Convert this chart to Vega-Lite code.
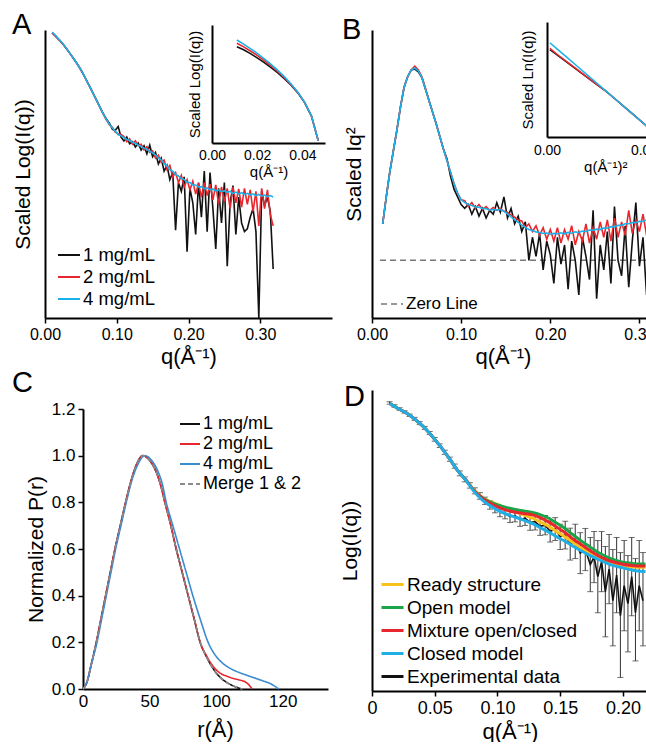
{
"$schema": "https://vega.github.io/schema/vega-lite/v6.json",
"padding": {"left": 12, "top": 10, "right": 0, "bottom": 0},
"background": "white",
"config": {
  "font": "Liberation Sans",
  "view": {"stroke": null},
  "axis": {"domainColor": "#000000", "domainWidth": 2, "tickColor": "#000000", "tickWidth": 1.5, "tickSize": 5, "labelColor": "#000000", "titleColor": "#000000", "labelFont": "Liberation Sans", "titleFont": "Liberation Sans", "titleFontWeight": "normal", "grid": false, "labelFontSize": 16, "titleFontSize": 21, "labelPadding": 3, "labelFlush": false},
  "legend": {"labelFont": "Liberation Sans", "labelColor": "#000000", "symbolType": "stroke", "labelLimit": 400},
  "title": {"font": "Liberation Sans", "fontWeight": "normal", "fontSize": 29, "anchor": "start", "color": "#000000", "frame": "group"}
},
"datasets": {
  "A": [
    {"q":0.010,"1 mg/mL":0.990,"2 mg/mL":0.990,"4 mg/mL":0.993},
    {"q":0.015,"1 mg/mL":0.978,"2 mg/mL":0.978,"4 mg/mL":0.980},
    {"q":0.020,"1 mg/mL":0.965,"2 mg/mL":0.965,"4 mg/mL":0.966},
    {"q":0.025,"1 mg/mL":0.951,"2 mg/mL":0.951,"4 mg/mL":0.952},
    {"q":0.030,"1 mg/mL":0.935,"2 mg/mL":0.935,"4 mg/mL":0.936},
    {"q":0.035,"1 mg/mL":0.918,"2 mg/mL":0.918,"4 mg/mL":0.918},
    {"q":0.040,"1 mg/mL":0.900,"2 mg/mL":0.900,"4 mg/mL":0.900},
    {"q":0.045,"1 mg/mL":0.882,"2 mg/mL":0.882,"4 mg/mL":0.882},
    {"q":0.050,"1 mg/mL":0.862,"2 mg/mL":0.862,"4 mg/mL":0.862},
    {"q":0.055,"1 mg/mL":0.839,"2 mg/mL":0.839,"4 mg/mL":0.839},
    {"q":0.060,"1 mg/mL":0.815,"2 mg/mL":0.815,"4 mg/mL":0.815},
    {"q":0.065,"1 mg/mL":0.790,"2 mg/mL":0.790,"4 mg/mL":0.790},
    {"q":0.070,"1 mg/mL":0.765,"2 mg/mL":0.765,"4 mg/mL":0.765},
    {"q":0.075,"1 mg/mL":0.740,"2 mg/mL":0.740,"4 mg/mL":0.740},
    {"q":0.080,"1 mg/mL":0.715,"2 mg/mL":0.715,"4 mg/mL":0.715},
    {"q":0.085,"1 mg/mL":0.693,"2 mg/mL":0.690,"4 mg/mL":0.692},
    {"q":0.090,"1 mg/mL":0.676,"2 mg/mL":0.670,"4 mg/mL":0.672},
    {"q":0.094,"1 mg/mL":0.655,"2 mg/mL":0.662,"4 mg/mL":0.660},
    {"q":0.098,"1 mg/mL":0.652,"2 mg/mL":0.645,"4 mg/mL":0.649},
    {"q":0.102,"1 mg/mL":0.665,"2 mg/mL":0.640,"4 mg/mL":0.636},
    {"q":0.106,"1 mg/mL":0.628,"2 mg/mL":0.637,"4 mg/mL":0.633},
    {"q":0.110,"1 mg/mL":0.615,"2 mg/mL":0.630,"4 mg/mL":0.626},
    {"q":0.114,"1 mg/mL":0.628,"2 mg/mL":0.612,"4 mg/mL":0.620},
    {"q":0.118,"1 mg/mL":0.605,"2 mg/mL":0.622,"4 mg/mL":0.617},
    {"q":0.122,"1 mg/mL":0.612,"2 mg/mL":0.604,"4 mg/mL":0.610},
    {"q":0.126,"1 mg/mL":0.594,"2 mg/mL":0.615,"4 mg/mL":0.606},
    {"q":0.130,"1 mg/mL":0.607,"2 mg/mL":0.598,"4 mg/mL":0.600},
    {"q":0.134,"1 mg/mL":0.583,"2 mg/mL":0.603,"4 mg/mL":0.596},
    {"q":0.138,"1 mg/mL":0.598,"2 mg/mL":0.584,"4 mg/mL":0.589},
    {"q":0.142,"1 mg/mL":0.570,"2 mg/mL":0.595,"4 mg/mL":0.586},
    {"q":0.146,"1 mg/mL":0.600,"2 mg/mL":0.575,"4 mg/mL":0.578},
    {"q":0.150,"1 mg/mL":0.560,"2 mg/mL":0.580,"4 mg/mL":0.574},
    {"q":0.154,"1 mg/mL":0.575,"2 mg/mL":0.555,"4 mg/mL":0.566},
    {"q":0.158,"1 mg/mL":0.535,"2 mg/mL":0.565,"4 mg/mL":0.556},
    {"q":0.162,"1 mg/mL":0.555,"2 mg/mL":0.540,"4 mg/mL":0.549},
    {"q":0.166,"1 mg/mL":0.510,"2 mg/mL":0.548,"4 mg/mL":0.536},
    {"q":0.170,"1 mg/mL":0.530,"2 mg/mL":0.515,"4 mg/mL":0.528},
    {"q":0.174,"1 mg/mL":0.480,"2 mg/mL":0.530,"4 mg/mL":0.515},
    {"q":0.178,"1 mg/mL":0.505,"2 mg/mL":0.490,"4 mg/mL":0.510},
    {"q":0.182,"1 mg/mL":0.305,"2 mg/mL":0.505,"4 mg/mL":0.498},
    {"q":0.186,"1 mg/mL":0.470,"2 mg/mL":0.470,"4 mg/mL":0.493},
    {"q":0.190,"1 mg/mL":0.440,"2 mg/mL":0.495,"4 mg/mL":0.484},
    {"q":0.194,"1 mg/mL":0.490,"2 mg/mL":0.455,"4 mg/mL":0.481},
    {"q":0.198,"1 mg/mL":0.230,"2 mg/mL":0.480,"4 mg/mL":0.471},
    {"q":0.202,"1 mg/mL":0.450,"2 mg/mL":0.445,"4 mg/mL":0.470},
    {"q":0.206,"1 mg/mL":0.400,"2 mg/mL":0.475,"4 mg/mL":0.462},
    {"q":0.210,"1 mg/mL":0.290,"2 mg/mL":0.430,"4 mg/mL":0.462},
    {"q":0.214,"1 mg/mL":0.470,"2 mg/mL":0.468,"4 mg/mL":0.455},
    {"q":0.218,"1 mg/mL":0.350,"2 mg/mL":0.420,"4 mg/mL":0.456},
    {"q":0.222,"1 mg/mL":0.510,"2 mg/mL":0.470,"4 mg/mL":0.449},
    {"q":0.226,"1 mg/mL":0.300,"2 mg/mL":0.425,"4 mg/mL":0.452},
    {"q":0.230,"1 mg/mL":0.505,"2 mg/mL":0.465,"4 mg/mL":0.445},
    {"q":0.234,"1 mg/mL":0.380,"2 mg/mL":0.410,"4 mg/mL":0.448},
    {"q":0.238,"1 mg/mL":0.240,"2 mg/mL":0.462,"4 mg/mL":0.441},
    {"q":0.242,"1 mg/mL":0.450,"2 mg/mL":0.395,"4 mg/mL":0.445},
    {"q":0.246,"1 mg/mL":0.330,"2 mg/mL":0.455,"4 mg/mL":0.438},
    {"q":0.250,"1 mg/mL":0.470,"2 mg/mL":0.405,"4 mg/mL":0.442},
    {"q":0.254,"1 mg/mL":0.180,"2 mg/mL":0.450,"4 mg/mL":0.436},
    {"q":0.258,"1 mg/mL":0.400,"2 mg/mL":0.380,"4 mg/mL":0.440},
    {"q":0.262,"1 mg/mL":0.460,"2 mg/mL":0.455,"4 mg/mL":0.432},
    {"q":0.266,"1 mg/mL":0.290,"2 mg/mL":0.400,"4 mg/mL":0.437},
    {"q":0.270,"1 mg/mL":0.420,"2 mg/mL":0.448,"4 mg/mL":0.431},
    {"q":0.274,"1 mg/mL":0.330,"2 mg/mL":0.385,"4 mg/mL":0.435},
    {"q":0.278,"1 mg/mL":0.300,"2 mg/mL":0.450,"4 mg/mL":0.429},
    {"q":0.282,"1 mg/mL":0.310,"2 mg/mL":0.395,"4 mg/mL":0.433},
    {"q":0.286,"1 mg/mL":0.350,"2 mg/mL":0.445,"4 mg/mL":0.427},
    {"q":0.290,"1 mg/mL":0.380,"2 mg/mL":0.370,"4 mg/mL":0.431},
    {"q":0.294,"1 mg/mL":0.300,"2 mg/mL":0.440,"4 mg/mL":0.425},
    {"q":0.298,"1 mg/mL":0.000,"2 mg/mL":0.320,"4 mg/mL":0.429},
    {"q":0.302,"1 mg/mL":0.440,"2 mg/mL":0.450,"4 mg/mL":0.423},
    {"q":0.306,"1 mg/mL":0.390,"2 mg/mL":0.380,"4 mg/mL":0.427},
    {"q":0.310,"1 mg/mL":0.420,"2 mg/mL":0.445,"4 mg/mL":0.421},
    {"q":0.314,"1 mg/mL":0.370,"2 mg/mL":0.360,"4 mg/mL":0.425},
    {"q":0.318,"1 mg/mL":0.170,"2 mg/mL":0.320,"4 mg/mL":0.420}
  ],
  "Ain": [
    {"q":0.011,"1 mg/mL":0.815,"2 mg/mL":0.845,"4 mg/mL":0.873},
    {"q":0.014,"1 mg/mL":0.790,"2 mg/mL":0.815,"4 mg/mL":0.838},
    {"q":0.017,"1 mg/mL":0.757,"2 mg/mL":0.780,"4 mg/mL":0.800},
    {"q":0.020,"1 mg/mL":0.722,"2 mg/mL":0.742,"4 mg/mL":0.760},
    {"q":0.023,"1 mg/mL":0.684,"2 mg/mL":0.700,"4 mg/mL":0.716},
    {"q":0.026,"1 mg/mL":0.641,"2 mg/mL":0.655,"4 mg/mL":0.668},
    {"q":0.029,"1 mg/mL":0.596,"2 mg/mL":0.606,"4 mg/mL":0.617},
    {"q":0.032,"1 mg/mL":0.546,"2 mg/mL":0.553,"4 mg/mL":0.562},
    {"q":0.035,"1 mg/mL":0.490,"2 mg/mL":0.495,"4 mg/mL":0.500},
    {"q":0.038,"1 mg/mL":0.425,"2 mg/mL":0.427,"4 mg/mL":0.430},
    {"q":0.041,"1 mg/mL":0.342,"2 mg/mL":0.343,"4 mg/mL":0.345},
    {"q":0.044,"1 mg/mL":0.228,"2 mg/mL":0.229,"4 mg/mL":0.230},
    {"q":0.047,"1 mg/mL":0.020,"2 mg/mL":0.020,"4 mg/mL":0.020}
  ],
  "B": [
    {"q":0.012,"1 mg/mL":0.19,"2 mg/mL":0.19,"4 mg/mL":0.19},
    {"q":0.016,"1 mg/mL":0.33,"2 mg/mL":0.33,"4 mg/mL":0.33},
    {"q":0.020,"1 mg/mL":0.46,"2 mg/mL":0.46,"4 mg/mL":0.46},
    {"q":0.024,"1 mg/mL":0.57,"2 mg/mL":0.57,"4 mg/mL":0.57},
    {"q":0.028,"1 mg/mL":0.68,"2 mg/mL":0.68,"4 mg/mL":0.68},
    {"q":0.032,"1 mg/mL":0.80,"2 mg/mL":0.80,"4 mg/mL":0.80},
    {"q":0.036,"1 mg/mL":0.90,"2 mg/mL":0.90,"4 mg/mL":0.90},
    {"q":0.040,"1 mg/mL":0.955,"2 mg/mL":0.955,"4 mg/mL":0.955},
    {"q":0.044,"1 mg/mL":0.99,"2 mg/mL":0.99,"4 mg/mL":0.99},
    {"q":0.048,"1 mg/mL":0.995,"2 mg/mL":1.01,"4 mg/mL":1.0},
    {"q":0.052,"1 mg/mL":0.98,"2 mg/mL":0.99,"4 mg/mL":0.985},
    {"q":0.056,"1 mg/mL":0.95,"2 mg/mL":0.955,"4 mg/mL":0.95},
    {"q":0.060,"1 mg/mL":0.89,"2 mg/mL":0.895,"4 mg/mL":0.89},
    {"q":0.064,"1 mg/mL":0.83,"2 mg/mL":0.83,"4 mg/mL":0.83},
    {"q":0.068,"1 mg/mL":0.77,"2 mg/mL":0.77,"4 mg/mL":0.77},
    {"q":0.072,"1 mg/mL":0.71,"2 mg/mL":0.71,"4 mg/mL":0.71},
    {"q":0.076,"1 mg/mL":0.645,"2 mg/mL":0.645,"4 mg/mL":0.645},
    {"q":0.080,"1 mg/mL":0.58,"2 mg/mL":0.58,"4 mg/mL":0.58},
    {"q":0.084,"1 mg/mL":0.53,"2 mg/mL":0.52,"4 mg/mL":0.52},
    {"q":0.088,"1 mg/mL":0.44,"2 mg/mL":0.46,"4 mg/mL":0.46},
    {"q":0.092,"1 mg/mL":0.37,"2 mg/mL":0.40,"4 mg/mL":0.40},
    {"q":0.096,"1 mg/mL":0.33,"2 mg/mL":0.35,"4 mg/mL":0.35},
    {"q":0.100,"1 mg/mL":0.29,"2 mg/mL":0.315,"4 mg/mL":0.315},
    {"q":0.104,"1 mg/mL":0.27,"2 mg/mL":0.31,"4 mg/mL":0.30},
    {"q":0.108,"1 mg/mL":0.29,"2 mg/mL":0.28,"4 mg/mL":0.29},
    {"q":0.112,"1 mg/mL":0.24,"2 mg/mL":0.30,"4 mg/mL":0.285},
    {"q":0.116,"1 mg/mL":0.28,"2 mg/mL":0.27,"4 mg/mL":0.278},
    {"q":0.120,"1 mg/mL":0.23,"2 mg/mL":0.29,"4 mg/mL":0.276},
    {"q":0.124,"1 mg/mL":0.27,"2 mg/mL":0.265,"4 mg/mL":0.27},
    {"q":0.128,"1 mg/mL":0.22,"2 mg/mL":0.28,"4 mg/mL":0.268},
    {"q":0.132,"1 mg/mL":0.26,"2 mg/mL":0.26,"4 mg/mL":0.262},
    {"q":0.136,"1 mg/mL":0.24,"2 mg/mL":0.275,"4 mg/mL":0.264},
    {"q":0.140,"1 mg/mL":0.30,"2 mg/mL":0.26,"4 mg/mL":0.262},
    {"q":0.144,"1 mg/mL":0.25,"2 mg/mL":0.27,"4 mg/mL":0.264},
    {"q":0.148,"1 mg/mL":0.33,"2 mg/mL":0.255,"4 mg/mL":0.255},
    {"q":0.152,"1 mg/mL":0.22,"2 mg/mL":0.25,"4 mg/mL":0.242},
    {"q":0.156,"1 mg/mL":0.27,"2 mg/mL":0.235,"4 mg/mL":0.226},
    {"q":0.160,"1 mg/mL":0.19,"2 mg/mL":0.225,"4 mg/mL":0.212},
    {"q":0.164,"1 mg/mL":0.23,"2 mg/mL":0.21,"4 mg/mL":0.197},
    {"q":0.168,"1 mg/mL":0.15,"2 mg/mL":0.205,"4 mg/mL":0.183},
    {"q":0.172,"1 mg/mL":0.20,"2 mg/mL":0.17,"4 mg/mL":0.172},
    {"q":0.176,"1 mg/mL":0.00,"2 mg/mL":0.19,"4 mg/mL":0.16},
    {"q":0.180,"1 mg/mL":0.12,"2 mg/mL":0.15,"4 mg/mL":0.155},
    {"q":0.184,"1 mg/mL":0.02,"2 mg/mL":0.18,"4 mg/mL":0.148},
    {"q":0.188,"1 mg/mL":0.14,"2 mg/mL":0.13,"4 mg/mL":0.145},
    {"q":0.192,"1 mg/mL":-0.05,"2 mg/mL":0.17,"4 mg/mL":0.14},
    {"q":0.196,"1 mg/mL":0.10,"2 mg/mL":0.11,"4 mg/mL":0.142},
    {"q":0.200,"1 mg/mL":0.03,"2 mg/mL":0.16,"4 mg/mL":0.136},
    {"q":0.204,"1 mg/mL":-0.12,"2 mg/mL":0.10,"4 mg/mL":0.14},
    {"q":0.208,"1 mg/mL":0.12,"2 mg/mL":0.17,"4 mg/mL":0.137},
    {"q":0.212,"1 mg/mL":-0.02,"2 mg/mL":0.09,"4 mg/mL":0.143},
    {"q":0.216,"1 mg/mL":0.08,"2 mg/mL":0.16,"4 mg/mL":0.138},
    {"q":0.220,"1 mg/mL":-0.15,"2 mg/mL":0.11,"4 mg/mL":0.145},
    {"q":0.224,"1 mg/mL":0.10,"2 mg/mL":0.18,"4 mg/mL":0.141},
    {"q":0.228,"1 mg/mL":0.00,"2 mg/mL":0.08,"4 mg/mL":0.148},
    {"q":0.232,"1 mg/mL":-0.18,"2 mg/mL":0.15,"4 mg/mL":0.145},
    {"q":0.236,"1 mg/mL":0.12,"2 mg/mL":0.10,"4 mg/mL":0.152},
    {"q":0.240,"1 mg/mL":0.02,"2 mg/mL":0.19,"4 mg/mL":0.15},
    {"q":0.244,"1 mg/mL":-0.10,"2 mg/mL":0.09,"4 mg/mL":0.158},
    {"q":0.248,"1 mg/mL":0.26,"2 mg/mL":0.17,"4 mg/mL":0.156},
    {"q":0.252,"1 mg/mL":-0.20,"2 mg/mL":0.11,"4 mg/mL":0.162},
    {"q":0.256,"1 mg/mL":0.08,"2 mg/mL":0.20,"4 mg/mL":0.16},
    {"q":0.260,"1 mg/mL":-0.05,"2 mg/mL":0.12,"4 mg/mL":0.168},
    {"q":0.264,"1 mg/mL":0.15,"2 mg/mL":0.21,"4 mg/mL":0.167},
    {"q":0.268,"1 mg/mL":-0.12,"2 mg/mL":0.10,"4 mg/mL":0.175},
    {"q":0.272,"1 mg/mL":0.28,"2 mg/mL":0.22,"4 mg/mL":0.174},
    {"q":0.276,"1 mg/mL":0.00,"2 mg/mL":0.12,"4 mg/mL":0.182},
    {"q":0.280,"1 mg/mL":-0.08,"2 mg/mL":0.20,"4 mg/mL":0.182},
    {"q":0.284,"1 mg/mL":0.18,"2 mg/mL":0.13,"4 mg/mL":0.19},
    {"q":0.288,"1 mg/mL":-0.14,"2 mg/mL":0.26,"4 mg/mL":0.19},
    {"q":0.292,"1 mg/mL":0.10,"2 mg/mL":0.14,"4 mg/mL":0.197},
    {"q":0.296,"1 mg/mL":0.30,"2 mg/mL":0.21,"4 mg/mL":0.196},
    {"q":0.300,"1 mg/mL":-0.03,"2 mg/mL":0.15,"4 mg/mL":0.203},
    {"q":0.304,"1 mg/mL":0.12,"2 mg/mL":0.24,"4 mg/mL":0.202},
    {"q":0.308,"1 mg/mL":-0.18,"2 mg/mL":0.13,"4 mg/mL":0.21},
    {"q":0.312,"1 mg/mL":0.20,"2 mg/mL":0.22,"4 mg/mL":0.208},
    {"q":0.316,"1 mg/mL":0.02,"2 mg/mL":0.15,"4 mg/mL":0.213},
    {"q":0.320,"1 mg/mL":-0.10,"2 mg/mL":0.23,"4 mg/mL":0.212},
    {"q":0.324,"1 mg/mL":0.16,"2 mg/mL":0.16,"4 mg/mL":0.216},
    {"q":0.328,"1 mg/mL":-0.06,"2 mg/mL":0.24,"4 mg/mL":0.215},
    {"q":0.332,"1 mg/mL":0.22,"2 mg/mL":0.17,"4 mg/mL":0.22}
  ],
  "Zero": [
    {"q":0.009,"val":0,"name":"Zero Line"},
    {"q":0.35,"val":0,"name":"Zero Line"}
  ],
  "Bin": [
    {"q2":0.0003,"1 mg/mL":0.760,"2 mg/mL":0.770,"4 mg/mL":0.820},
    {"q2":0.001,"1 mg/mL":0.715,"2 mg/mL":0.722,"4 mg/mL":0.769},
    {"q2":0.002,"1 mg/mL":0.652,"2 mg/mL":0.657,"4 mg/mL":0.697},
    {"q2":0.003,"1 mg/mL":0.590,"2 mg/mL":0.594,"4 mg/mL":0.624},
    {"q2":0.004,"1 mg/mL":0.527,"2 mg/mL":0.530,"4 mg/mL":0.551},
    {"q2":0.005,"1 mg/mL":0.465,"2 mg/mL":0.467,"4 mg/mL":0.478},
    {"q2":0.006,"1 mg/mL":0.403,"2 mg/mL":0.404,"4 mg/mL":0.406},
    {"q2":0.007,"1 mg/mL":0.333,"2 mg/mL":0.333,"4 mg/mL":0.333},
    {"q2":0.008,"1 mg/mL":0.260,"2 mg/mL":0.260,"4 mg/mL":0.260},
    {"q2":0.009,"1 mg/mL":0.188,"2 mg/mL":0.188,"4 mg/mL":0.188},
    {"q2":0.010,"1 mg/mL":0.115,"2 mg/mL":0.115,"4 mg/mL":0.115},
    {"q2":0.0115,"1 mg/mL":0.006,"2 mg/mL":0.006,"4 mg/mL":0.006}
  ],
  "C": [
    {"r":0,"P":0,"s":"1 mg/mL"},{"r":3,"P":0.03,"s":"1 mg/mL"},{"r":6,"P":0.1,"s":"1 mg/mL"},{"r":10,"P":0.2,"s":"1 mg/mL"},{"r":13.5,"P":0.3,"s":"1 mg/mL"},{"r":17,"P":0.4,"s":"1 mg/mL"},{"r":20.5,"P":0.5,"s":"1 mg/mL"},{"r":24,"P":0.6,"s":"1 mg/mL"},{"r":28,"P":0.7,"s":"1 mg/mL"},{"r":32,"P":0.8,"s":"1 mg/mL"},{"r":36,"P":0.89,"s":"1 mg/mL"},{"r":40,"P":0.96,"s":"1 mg/mL"},{"r":45,"P":1.0,"s":"1 mg/mL"},{"r":50,"P":0.98,"s":"1 mg/mL"},{"r":55,"P":0.93,"s":"1 mg/mL"},{"r":58,"P":0.88,"s":"1 mg/mL"},{"r":61.5,"P":0.8,"s":"1 mg/mL"},{"r":66,"P":0.7,"s":"1 mg/mL"},{"r":70,"P":0.6,"s":"1 mg/mL"},{"r":74.5,"P":0.5,"s":"1 mg/mL"},{"r":79,"P":0.4,"s":"1 mg/mL"},{"r":83.5,"P":0.3,"s":"1 mg/mL"},{"r":88,"P":0.2,"s":"1 mg/mL"},{"r":93,"P":0.135,"s":"1 mg/mL"},{"r":98,"P":0.085,"s":"1 mg/mL"},{"r":103,"P":0.05,"s":"1 mg/mL"},{"r":108,"P":0.028,"s":"1 mg/mL"},{"r":113,"P":0.013,"s":"1 mg/mL"},{"r":117,"P":0.004,"s":"1 mg/mL"},{"r":120,"P":0,"s":"1 mg/mL"},
    {"r":0,"P":0,"s":"2 mg/mL"},{"r":3,"P":0.03,"s":"2 mg/mL"},{"r":6,"P":0.1,"s":"2 mg/mL"},{"r":10,"P":0.2,"s":"2 mg/mL"},{"r":13.5,"P":0.3,"s":"2 mg/mL"},{"r":17,"P":0.4,"s":"2 mg/mL"},{"r":20.5,"P":0.5,"s":"2 mg/mL"},{"r":24,"P":0.6,"s":"2 mg/mL"},{"r":28,"P":0.7,"s":"2 mg/mL"},{"r":32,"P":0.8,"s":"2 mg/mL"},{"r":36,"P":0.89,"s":"2 mg/mL"},{"r":40,"P":0.96,"s":"2 mg/mL"},{"r":45,"P":1.0,"s":"2 mg/mL"},{"r":50,"P":0.98,"s":"2 mg/mL"},{"r":55,"P":0.93,"s":"2 mg/mL"},{"r":58,"P":0.88,"s":"2 mg/mL"},{"r":61.5,"P":0.8,"s":"2 mg/mL"},{"r":66,"P":0.7,"s":"2 mg/mL"},{"r":70,"P":0.6,"s":"2 mg/mL"},{"r":74.5,"P":0.5,"s":"2 mg/mL"},{"r":79,"P":0.4,"s":"2 mg/mL"},{"r":83.5,"P":0.3,"s":"2 mg/mL"},{"r":88,"P":0.2,"s":"2 mg/mL"},{"r":93,"P":0.14,"s":"2 mg/mL"},{"r":98,"P":0.095,"s":"2 mg/mL"},{"r":103,"P":0.068,"s":"2 mg/mL"},{"r":108,"P":0.055,"s":"2 mg/mL"},{"r":113,"P":0.045,"s":"2 mg/mL"},{"r":118,"P":0.038,"s":"2 mg/mL"},{"r":122,"P":0.03,"s":"2 mg/mL"},{"r":125,"P":0.015,"s":"2 mg/mL"},{"r":127,"P":0,"s":"2 mg/mL"},
    {"r":0,"P":0,"s":"4 mg/mL"},{"r":3,"P":0.03,"s":"4 mg/mL"},{"r":6,"P":0.1,"s":"4 mg/mL"},{"r":10.5,"P":0.2,"s":"4 mg/mL"},{"r":14,"P":0.3,"s":"4 mg/mL"},{"r":17.5,"P":0.4,"s":"4 mg/mL"},{"r":21,"P":0.5,"s":"4 mg/mL"},{"r":24.5,"P":0.6,"s":"4 mg/mL"},{"r":28.5,"P":0.7,"s":"4 mg/mL"},{"r":32.5,"P":0.8,"s":"4 mg/mL"},{"r":36.5,"P":0.89,"s":"4 mg/mL"},{"r":41,"P":0.96,"s":"4 mg/mL"},{"r":46.5,"P":1.0,"s":"4 mg/mL"},{"r":51.5,"P":0.98,"s":"4 mg/mL"},{"r":56.5,"P":0.93,"s":"4 mg/mL"},{"r":59.5,"P":0.88,"s":"4 mg/mL"},{"r":62.5,"P":0.8,"s":"4 mg/mL"},{"r":67.5,"P":0.7,"s":"4 mg/mL"},{"r":72.5,"P":0.6,"s":"4 mg/mL"},{"r":77.5,"P":0.5,"s":"4 mg/mL"},{"r":82.5,"P":0.4,"s":"4 mg/mL"},{"r":88,"P":0.3,"s":"4 mg/mL"},{"r":94,"P":0.2,"s":"4 mg/mL"},{"r":100,"P":0.14,"s":"4 mg/mL"},{"r":105,"P":0.11,"s":"4 mg/mL"},{"r":110,"P":0.09,"s":"4 mg/mL"},{"r":115,"P":0.076,"s":"4 mg/mL"},{"r":120,"P":0.065,"s":"4 mg/mL"},{"r":125,"P":0.055,"s":"4 mg/mL"},{"r":130,"P":0.045,"s":"4 mg/mL"},{"r":135,"P":0.035,"s":"4 mg/mL"},{"r":140,"P":0.025,"s":"4 mg/mL"},{"r":144,"P":0.012,"s":"4 mg/mL"},{"r":147,"P":0,"s":"4 mg/mL"},
    {"r":0,"P":0,"s":"Merge 1 & 2"},{"r":3,"P":0.03,"s":"Merge 1 & 2"},{"r":6,"P":0.1,"s":"Merge 1 & 2"},{"r":10,"P":0.2,"s":"Merge 1 & 2"},{"r":13.5,"P":0.3,"s":"Merge 1 & 2"},{"r":17,"P":0.4,"s":"Merge 1 & 2"},{"r":20.5,"P":0.5,"s":"Merge 1 & 2"},{"r":24,"P":0.6,"s":"Merge 1 & 2"},{"r":28,"P":0.7,"s":"Merge 1 & 2"},{"r":32,"P":0.8,"s":"Merge 1 & 2"},{"r":36,"P":0.89,"s":"Merge 1 & 2"},{"r":40,"P":0.96,"s":"Merge 1 & 2"},{"r":45,"P":1.0,"s":"Merge 1 & 2"},{"r":50,"P":0.98,"s":"Merge 1 & 2"},{"r":55,"P":0.93,"s":"Merge 1 & 2"},{"r":58,"P":0.88,"s":"Merge 1 & 2"},{"r":61.5,"P":0.8,"s":"Merge 1 & 2"},{"r":66,"P":0.7,"s":"Merge 1 & 2"},{"r":70,"P":0.6,"s":"Merge 1 & 2"},{"r":74.5,"P":0.5,"s":"Merge 1 & 2"},{"r":79,"P":0.4,"s":"Merge 1 & 2"},{"r":83.5,"P":0.3,"s":"Merge 1 & 2"},{"r":88,"P":0.2,"s":"Merge 1 & 2"},{"r":93,"P":0.135,"s":"Merge 1 & 2"},{"r":98,"P":0.085,"s":"Merge 1 & 2"},{"r":103,"P":0.05,"s":"Merge 1 & 2"},{"r":108,"P":0.028,"s":"Merge 1 & 2"},{"r":113,"P":0.013,"s":"Merge 1 & 2"},{"r":117,"P":0.004,"s":"Merge 1 & 2"},{"r":120,"P":0,"s":"Merge 1 & 2"}
  ],
  "Dexp": [
    {"q":0.014,"I":0.957,"lo":0.953,"hi":0.961},
    {"q":0.018,"I":0.947,"lo":0.943,"hi":0.951},
    {"q":0.022,"I":0.937,"lo":0.933,"hi":0.941},
    {"q":0.026,"I":0.927,"lo":0.923,"hi":0.931},
    {"q":0.030,"I":0.916,"lo":0.912,"hi":0.920},
    {"q":0.034,"I":0.904,"lo":0.899,"hi":0.909},
    {"q":0.038,"I":0.890,"lo":0.885,"hi":0.895},
    {"q":0.042,"I":0.874,"lo":0.869,"hi":0.879},
    {"q":0.046,"I":0.857,"lo":0.852,"hi":0.862},
    {"q":0.050,"I":0.836,"lo":0.830,"hi":0.842},
    {"q":0.054,"I":0.815,"lo":0.809,"hi":0.821},
    {"q":0.058,"I":0.793,"lo":0.786,"hi":0.800},
    {"q":0.062,"I":0.770,"lo":0.763,"hi":0.777},
    {"q":0.066,"I":0.747,"lo":0.740,"hi":0.754},
    {"q":0.070,"I":0.723,"lo":0.715,"hi":0.731},
    {"q":0.074,"I":0.703,"lo":0.695,"hi":0.711},
    {"q":0.078,"I":0.683,"lo":0.674,"hi":0.692},
    {"q":0.082,"I":0.665,"lo":0.655,"hi":0.675},
    {"q":0.086,"I":0.648,"lo":0.637,"hi":0.659},
    {"q":0.090,"I":0.632,"lo":0.620,"hi":0.644},
    {"q":0.094,"I":0.618,"lo":0.604,"hi":0.632},
    {"q":0.098,"I":0.607,"lo":0.592,"hi":0.622},
    {"q":0.102,"I":0.596,"lo":0.579,"hi":0.613},
    {"q":0.106,"I":0.590,"lo":0.572,"hi":0.608},
    {"q":0.110,"I":0.580,"lo":0.560,"hi":0.600},
    {"q":0.114,"I":0.583,"lo":0.562,"hi":0.604},
    {"q":0.118,"I":0.570,"lo":0.547,"hi":0.593},
    {"q":0.122,"I":0.574,"lo":0.550,"hi":0.598},
    {"q":0.126,"I":0.560,"lo":0.534,"hi":0.586},
    {"q":0.130,"I":0.563,"lo":0.535,"hi":0.591},
    {"q":0.134,"I":0.547,"lo":0.517,"hi":0.577},
    {"q":0.138,"I":0.551,"lo":0.519,"hi":0.583},
    {"q":0.142,"I":0.530,"lo":0.495,"hi":0.565},
    {"q":0.146,"I":0.538,"lo":0.500,"hi":0.576},
    {"q":0.150,"I":0.512,"lo":0.470,"hi":0.554},
    {"q":0.154,"I":0.518,"lo":0.472,"hi":0.564},
    {"q":0.158,"I":0.488,"lo":0.435,"hi":0.541},
    {"q":0.162,"I":0.497,"lo":0.440,"hi":0.554},
    {"q":0.166,"I":0.458,"lo":0.390,"hi":0.526},
    {"q":0.170,"I":0.470,"lo":0.400,"hi":0.540},
    {"q":0.174,"I":0.420,"lo":0.330,"hi":0.510},
    {"q":0.177,"I":0.445,"lo":0.360,"hi":0.530},
    {"q":0.180,"I":0.380,"lo":0.260,"hi":0.500},
    {"q":0.183,"I":0.430,"lo":0.330,"hi":0.530},
    {"q":0.186,"I":0.330,"lo":0.180,"hi":0.480},
    {"q":0.189,"I":0.405,"lo":0.290,"hi":0.520},
    {"q":0.192,"I":0.300,"lo":0.150,"hi":0.470},
    {"q":0.195,"I":0.385,"lo":0.260,"hi":0.510},
    {"q":0.198,"I":0.250,"lo":0.045,"hi":0.460},
    {"q":0.201,"I":0.350,"lo":0.200,"hi":0.500},
    {"q":0.204,"I":0.290,"lo":0.130,"hi":0.450},
    {"q":0.207,"I":0.380,"lo":0.250,"hi":0.510},
    {"q":0.210,"I":0.260,"lo":0.100,"hi":0.440},
    {"q":0.213,"I":0.350,"lo":0.200,"hi":0.500},
    {"q":0.216,"I":0.300,"lo":0.150,"hi":0.460}
  ],
  "Dmod": [
    {"q":0.014,"Ready structure":0.955,"Open model":0.955,"Mixture open/closed":0.955,"Closed model":0.955},
    {"q":0.020,"Ready structure":0.940,"Open model":0.940,"Mixture open/closed":0.940,"Closed model":0.940},
    {"q":0.028,"Ready structure":0.922,"Open model":0.922,"Mixture open/closed":0.922,"Closed model":0.922},
    {"q":0.035,"Ready structure":0.900,"Open model":0.900,"Mixture open/closed":0.900,"Closed model":0.900},
    {"q":0.041,"Ready structure":0.878,"Open model":0.878,"Mixture open/closed":0.878,"Closed model":0.878},
    {"q":0.048,"Ready structure":0.846,"Open model":0.846,"Mixture open/closed":0.846,"Closed model":0.846},
    {"q":0.055,"Ready structure":0.810,"Open model":0.810,"Mixture open/closed":0.810,"Closed model":0.810},
    {"q":0.062,"Ready structure":0.770,"Open model":0.770,"Mixture open/closed":0.770,"Closed model":0.770},
    {"q":0.068,"Ready structure":0.734,"Open model":0.734,"Mixture open/closed":0.734,"Closed model":0.734},
    {"q":0.075,"Ready structure":0.700,"Open model":0.700,"Mixture open/closed":0.700,"Closed model":0.699},
    {"q":0.081,"Ready structure":0.669,"Open model":0.668,"Mixture open/closed":0.667,"Closed model":0.665},
    {"q":0.088,"Ready structure":0.643,"Open model":0.642,"Mixture open/closed":0.640,"Closed model":0.634},
    {"q":0.094,"Ready structure":0.630,"Open model":0.628,"Mixture open/closed":0.624,"Closed model":0.616},
    {"q":0.100,"Ready structure":0.620,"Open model":0.618,"Mixture open/closed":0.612,"Closed model":0.601},
    {"q":0.107,"Ready structure":0.607,"Open model":0.610,"Mixture open/closed":0.601,"Closed model":0.588},
    {"q":0.114,"Ready structure":0.596,"Open model":0.603,"Mixture open/closed":0.594,"Closed model":0.578},
    {"q":0.121,"Ready structure":0.585,"Open model":0.598,"Mixture open/closed":0.590,"Closed model":0.568},
    {"q":0.128,"Ready structure":0.574,"Open model":0.593,"Mixture open/closed":0.585,"Closed model":0.556},
    {"q":0.134,"Ready structure":0.562,"Open model":0.586,"Mixture open/closed":0.576,"Closed model":0.543},
    {"q":0.141,"Ready structure":0.547,"Open model":0.574,"Mixture open/closed":0.561,"Closed model":0.528},
    {"q":0.147,"Ready structure":0.530,"Open model":0.558,"Mixture open/closed":0.545,"Closed model":0.513},
    {"q":0.154,"Ready structure":0.512,"Open model":0.540,"Mixture open/closed":0.526,"Closed model":0.497},
    {"q":0.160,"Ready structure":0.494,"Open model":0.520,"Mixture open/closed":0.506,"Closed model":0.482},
    {"q":0.167,"Ready structure":0.474,"Open model":0.498,"Mixture open/closed":0.486,"Closed model":0.465},
    {"q":0.174,"Ready structure":0.456,"Open model":0.478,"Mixture open/closed":0.466,"Closed model":0.450},
    {"q":0.180,"Ready structure":0.441,"Open model":0.461,"Mixture open/closed":0.450,"Closed model":0.438},
    {"q":0.187,"Ready structure":0.429,"Open model":0.446,"Mixture open/closed":0.436,"Closed model":0.425},
    {"q":0.194,"Ready structure":0.420,"Open model":0.435,"Mixture open/closed":0.427,"Closed model":0.415},
    {"q":0.200,"Ready structure":0.415,"Open model":0.428,"Mixture open/closed":0.421,"Closed model":0.409},
    {"q":0.207,"Ready structure":0.412,"Open model":0.424,"Mixture open/closed":0.417,"Closed model":0.402},
    {"q":0.214,"Ready structure":0.411,"Open model":0.422,"Mixture open/closed":0.415,"Closed model":0.398},
    {"q":0.218,"Ready structure":0.411,"Open model":0.422,"Mixture open/closed":0.415,"Closed model":0.397}
  ]
},
"columns": 2,
"spacing": {"row": 72, "column": 40},
"bounds": "flush",
"align": "none",
"resolve": {"scale": {"color": "independent", "strokeDash": "independent", "strokeWidth": "independent"}, "legend": {"color": "independent", "strokeDash": "independent", "strokeWidth": "independent"}},
"concat": [
  {
    "width": 287, "height": 288,
    "title": {"text": "A", "dx": -33, "offset": -11},
    "layer": [
      {
        "data": {"name": "A"},
        "transform": [{"fold": ["1 mg/mL", "2 mg/mL", "4 mg/mL"], "as": ["series", "val"]}],
        "mark": {"type": "line", "strokeWidth": 1.6},
        "encoding": {
          "x": {"field": "q", "type": "quantitative", "scale": {"domain": [0, 0.4], "nice": false}, "axis": {"values": [0, 0.1, 0.2, 0.3], "format": ".2f", "title": "q(Å⁻¹)", "titleFontSize": 22, "titlePadding": 4}},
          "y": {"field": "val", "type": "quantitative", "scale": {"domain": [0, 1], "nice": false}, "axis": {"labels": false, "ticks": false, "title": "Scaled Log(I(q))", "titlePadding": 12}},
          "color": {"field": "series", "type": "nominal", "scale": {"domain": ["1 mg/mL", "2 mg/mL", "4 mg/mL"], "range": ["#111111", "#e8262d", "#1ab2ea"]}, "legend": {"title": null, "orient": "none", "legendX": 12, "legendY": 213, "labelFontSize": 18.5, "symbolSize": 484, "symbolStrokeWidth": 2, "rowPadding": -1, "labelOffset": 2}}
        }
      },
      {
        "data": {"name": "Ain"},
        "transform": [{"fold": ["1 mg/mL", "2 mg/mL", "4 mg/mL"], "as": ["series", "val"]}],
        "mark": {"type": "line", "strokeWidth": 1.6},
        "encoding": {
          "x": {"field": "q", "type": "quantitative", "scale": {"domain": [0, 0.05], "range": [167, 280], "nice": false}, "axis": {"orient": "bottom", "offset": -175, "values": [0, 0.02, 0.04], "format": ".2f", "ticks": false, "labelFontSize": 14, "labelPadding": 5, "title": "q(Å⁻¹)", "titleFontSize": 15, "titlePadding": 2}},
          "y": {"field": "val", "type": "quantitative", "scale": {"domain": [0, 1], "range": [113, -5], "nice": false}, "axis": {"orient": "left", "offset": -167, "labels": false, "ticks": false, "title": "Scaled Log(I(q))", "titleFontSize": 15, "titlePadding": 10}},
          "color": {"field": "series", "type": "nominal"}
        }
      }
    ],
    "resolve": {"scale": {"x": "independent", "y": "independent"}, "axis": {"x": "independent", "y": "independent"}}
  },
  {
    "width": 312, "height": 288,
    "title": {"text": "B", "dx": -30, "offset": -15},
    "layer": [
      {
        "layer": [
          {
            "data": {"name": "Zero"},
            "mark": {"type": "line", "color": "#777777", "strokeWidth": 1.5},
            "encoding": {
              "x": {"field": "q", "type": "quantitative"},
              "y": {"field": "val", "type": "quantitative"},
              "strokeDash": {"field": "name", "type": "nominal", "scale": {"domain": ["Zero Line"], "range": [[6, 4]]}, "legend": {"title": null, "orient": "none", "legendX": 8, "legendY": 262, "labelFontSize": 17, "symbolSize": 484, "symbolStrokeWidth": 1.5, "symbolStrokeColor": "#777777", "labelOffset": 2}}
            }
          },
          {
            "data": {"name": "B"},
            "transform": [{"fold": ["1 mg/mL", "2 mg/mL", "4 mg/mL"], "as": ["series", "val"]}],
            "mark": {"type": "line", "strokeWidth": 1.6},
            "encoding": {
              "x": {"field": "q", "type": "quantitative", "scale": {"domain": [0, 0.35], "nice": false}, "axis": {"values": [0, 0.1, 0.2, 0.3], "format": ".2f", "title": "q(Å⁻¹)", "titleFontSize": 22, "titleX": 131, "titlePadding": 4}},
              "y": {"field": "val", "type": "quantitative", "scale": {"domain": [-0.3, 1.198], "nice": false, "zero": false}, "axis": {"labels": false, "ticks": false, "title": "Scaled Iq²", "titlePadding": 8}},
              "color": {"field": "series", "type": "nominal", "scale": {"domain": ["1 mg/mL", "2 mg/mL", "4 mg/mL"], "range": ["#111111", "#e8262d", "#1ab2ea"]}, "legend": null}
            }
          }
        ]
      },
      {
        "data": {"name": "Bin"},
        "transform": [{"fold": ["1 mg/mL", "2 mg/mL", "4 mg/mL"], "as": ["series", "val"]}],
        "mark": {"type": "line"},
        "encoding": {
          "x": {"field": "q2", "type": "quantitative", "scale": {"domain": [0, 0.012], "range": [175, 291.4], "nice": false}, "axis": {"orient": "bottom", "offset": -181, "values": [0, 0.01], "format": ".2f", "ticks": false, "labelFontSize": 14, "labelPadding": 6, "title": "q(Å⁻¹)²", "titleFontSize": 15, "titlePadding": 2}},
          "y": {"field": "val", "type": "quantitative", "scale": {"domain": [0, 1], "range": [107, -8], "nice": false}, "axis": {"orient": "left", "offset": -175, "labels": false, "ticks": false, "title": "Scaled Ln(I(q))", "titleFontSize": 15, "titlePadding": 12}},
          "color": {"field": "series", "type": "nominal", "legend": null},
          "strokeWidth": {"field": "series", "type": "ordinal", "scale": {"domain": ["1 mg/mL", "2 mg/mL", "4 mg/mL"], "range": [1.5, 1.5, 6]}, "legend": null}
        }
      }
    ],
    "resolve": {"scale": {"x": "independent", "y": "independent"}, "axis": {"x": "independent", "y": "independent"}}
  },
  {
    "width": 283, "height": 301,
    "title": {"text": "C", "dx": -33, "offset": -8},
    "data": {"name": "C"},
    "mark": {"type": "line", "strokeWidth": 1.6, "interpolate": "monotone"},
    "encoding": {
      "x": {"field": "r", "type": "quantitative", "scale": {"domain": [0, 184], "range": [38, 283], "nice": false}, "axis": {"values": [0, 50, 100, 150], "labelExpr": "datum.value == 150 ? '120' : datum.label", "offset": -2, "ticks": false, "labelFontSize": 17, "labelPadding": 4, "title": "r(Å)", "titleFontSize": 22, "titleX": 170, "titlePadding": 10}},
      "y": {"field": "P", "type": "quantitative", "scale": {"domain": [0, 1.2], "range": [299, 19], "nice": false}, "axis": {"values": [0, 0.2, 0.4, 0.6, 0.8, 1.0, 1.2], "format": ".1f", "offset": -38, "labelFontSize": 17, "title": "Normalized P(r)", "titlePadding": 5}},
      "color": {"field": "s", "type": "nominal", "scale": {"domain": ["1 mg/mL", "2 mg/mL", "4 mg/mL", "Merge 1 & 2"], "range": ["#111111", "#e8262d", "#3a8ad0", "#8a8a8a"]}, "legend": {"title": null, "orient": "none", "legendX": 134, "legendY": 23, "labelFontSize": 18, "symbolSize": 400, "symbolStrokeWidth": 2, "rowPadding": -2, "labelOffset": 2}},
      "strokeDash": {"field": "s", "type": "nominal", "scale": {"domain": ["1 mg/mL", "2 mg/mL", "4 mg/mL", "Merge 1 & 2"], "range": [[1, 0], [1, 0], [1, 0], [5, 3]]}, "legend": {"title": null, "orient": "none", "legendX": 134, "legendY": 23, "labelFontSize": 18, "symbolSize": 400, "symbolStrokeWidth": 2, "rowPadding": -2, "labelOffset": 2}}
    }
  },
  {
    "width": 276, "height": 301,
    "title": {"text": "D", "dx": -28, "offset": -22},
    "layer": [
      {
        "data": {"name": "Dexp"},
        "mark": {"type": "errorbar", "ticks": {"size": 6}, "color": "#333333", "thickness": 1},
        "encoding": {
          "x": {"field": "q", "type": "quantitative", "scale": {"domain": [0, 0.22], "nice": false}, "axis": {"values": [0, 0.05, 0.1, 0.15, 0.2], "labelExpr": "datum.value == 0 ? '0' : format(datum.value, '.2f')", "labelFontSize": 18, "title": "q(Å⁻¹)", "titleFontSize": 22, "titlePadding": 4}},
          "y": {"field": "lo", "type": "quantitative", "scale": {"domain": [0, 1], "nice": false}, "axis": {"labels": false, "ticks": false, "title": "Log(I(q))", "titlePadding": 12}},
          "y2": {"field": "hi"}
        }
      },
      {
        "data": {"name": "Dexp"},
        "mark": {"type": "line", "strokeWidth": 1.6},
        "encoding": {
          "x": {"field": "q", "type": "quantitative"},
          "y": {"field": "I", "type": "quantitative"},
          "color": {"datum": "Experimental data", "type": "nominal"}
        }
      },
      {
        "data": {"name": "Dmod"},
        "transform": [{"fold": ["Ready structure", "Open model", "Mixture open/closed", "Closed model"], "as": ["model", "val"]}],
        "mark": {"type": "line", "strokeWidth": 3, "interpolate": "monotone"},
        "encoding": {
          "x": {"field": "q", "type": "quantitative"},
          "y": {"field": "val", "type": "quantitative"},
          "color": {"field": "model", "type": "nominal", "scale": {"domain": ["Ready structure", "Open model", "Mixture open/closed", "Closed model", "Experimental data"], "range": ["#f7c21a", "#1aa548", "#e8262d", "#20aee6", "#111111"]}, "legend": {"title": null, "orient": "none", "legendX": 8, "legendY": 182, "labelFontSize": 19, "symbolSize": 484, "symbolStrokeWidth": 3, "rowPadding": 0, "labelOffset": 2}}
        }
      }
    ]
  }
]
}
